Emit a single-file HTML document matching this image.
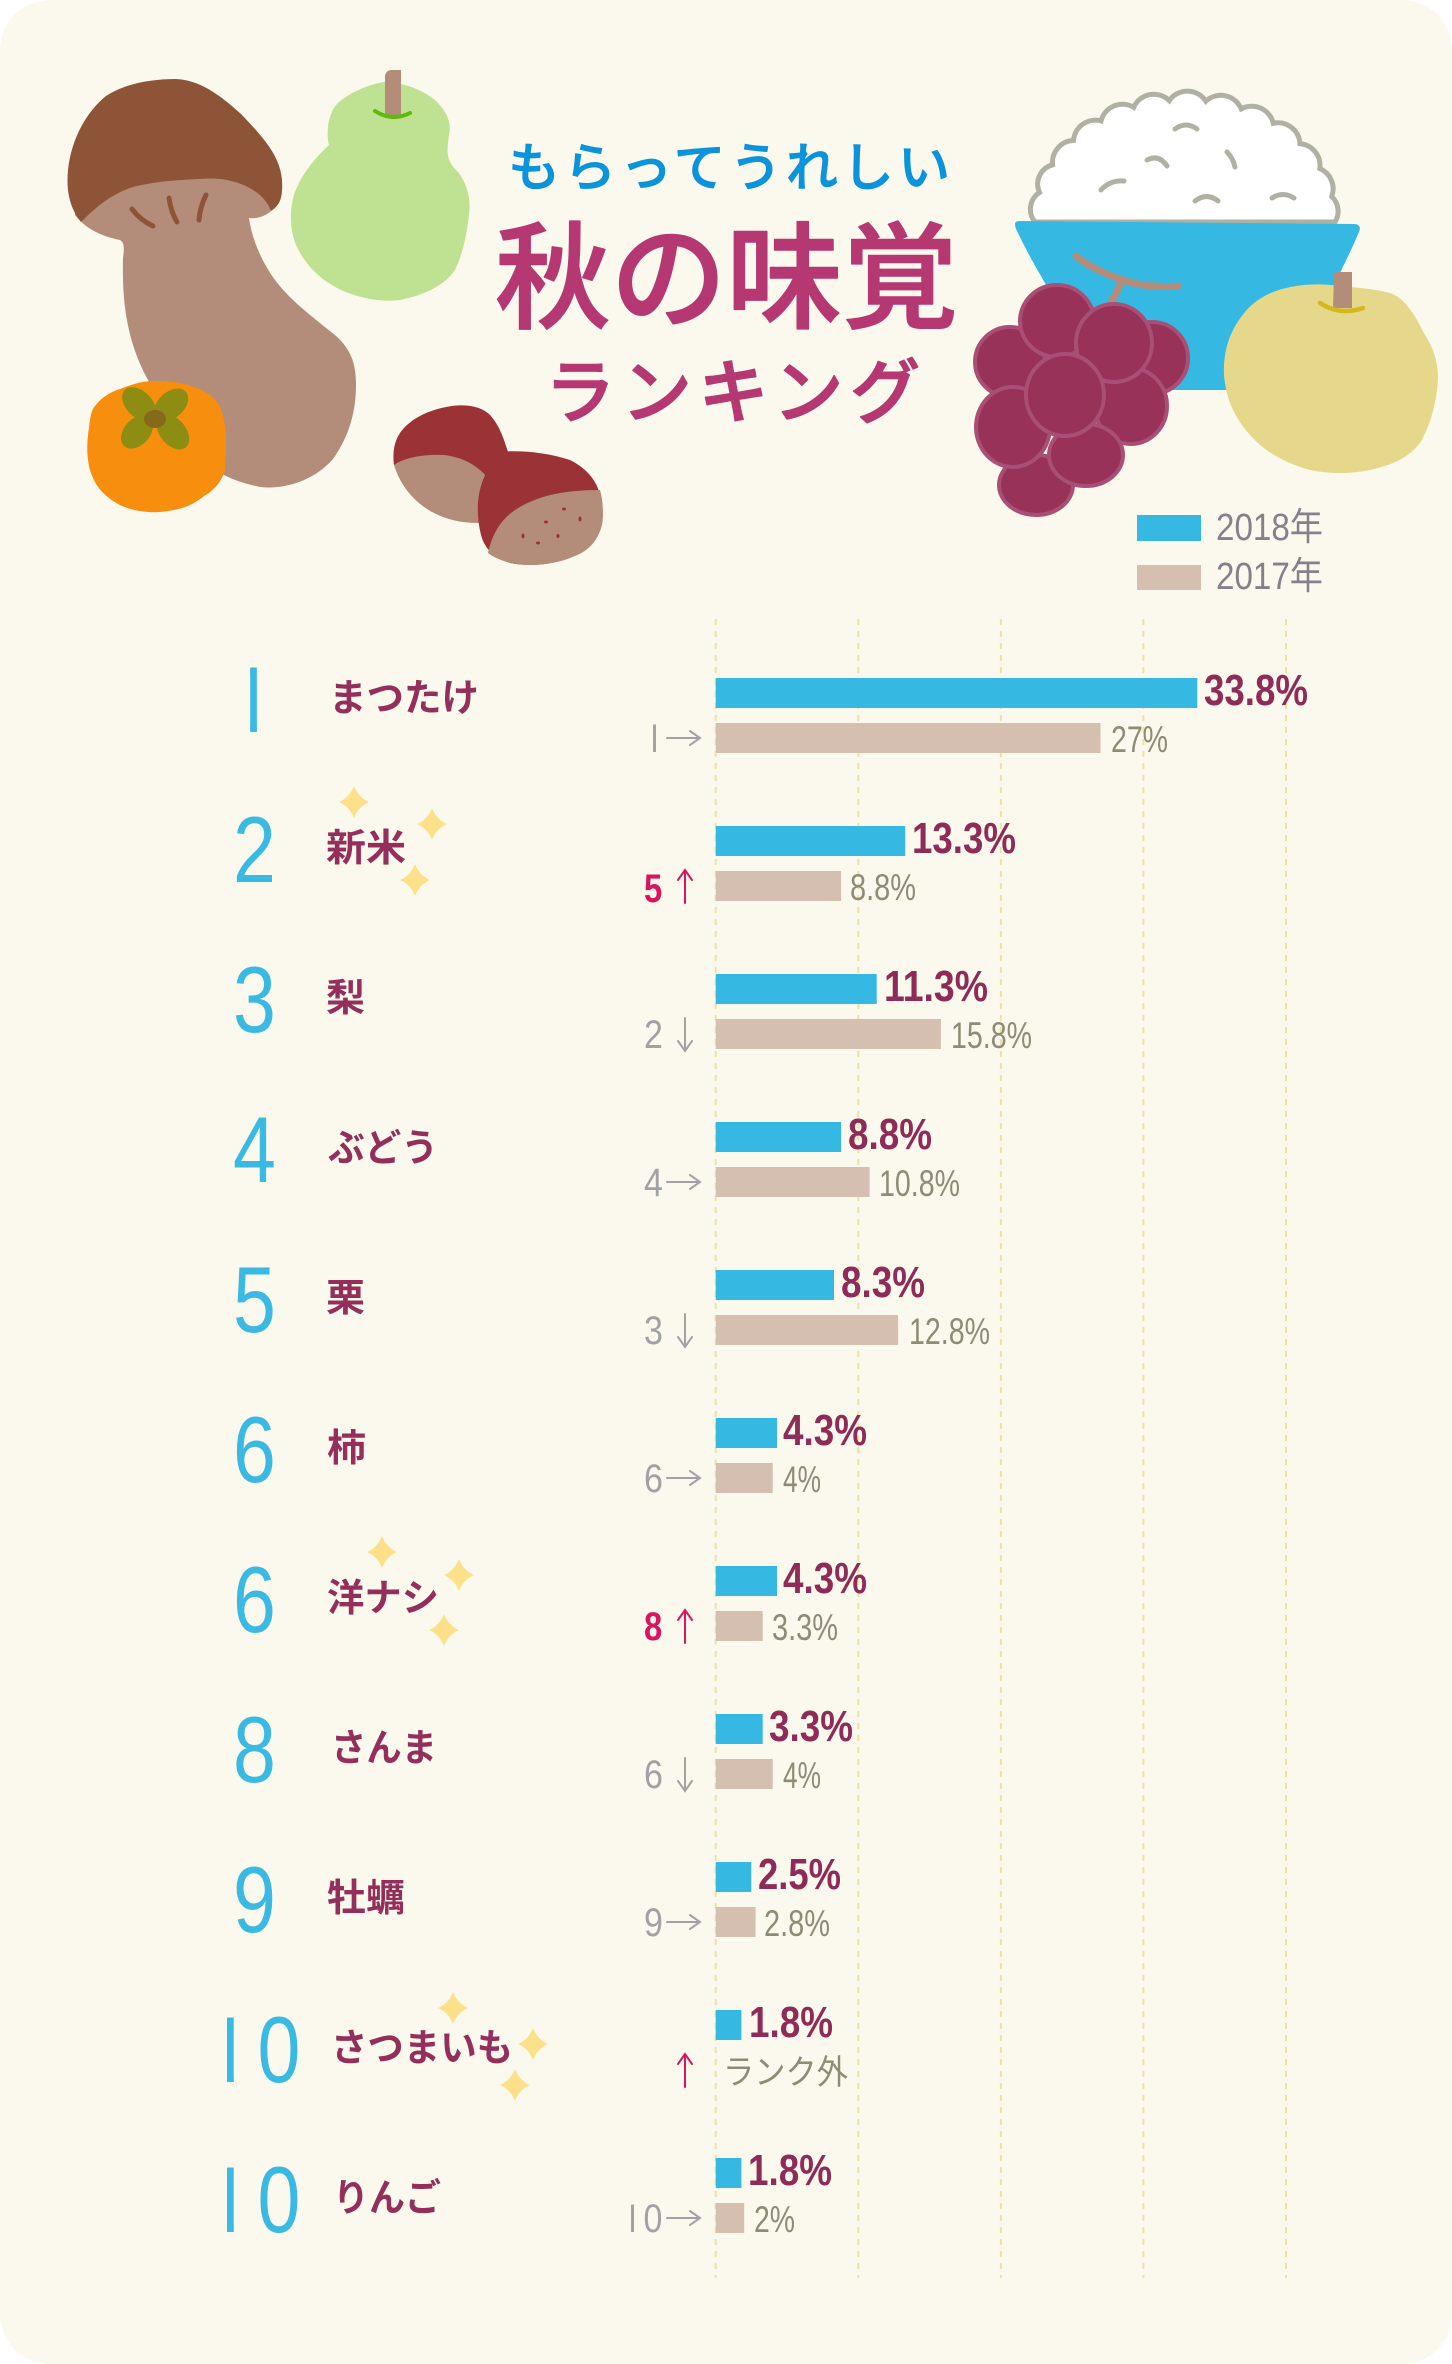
<!DOCTYPE html>
<html><head><meta charset="utf-8"><style>html,body{margin:0;padding:0;background:#fff}svg{display:block}</style></head>
<body>
<svg width="1452" height="2364" viewBox="0 0 1452 2364" xmlns="http://www.w3.org/2000/svg">
<defs>
<clipPath id="c1"><rect x="250.1" y="600" width="6.8" height="160"/></clipPath>
<clipPath id="c10a"><rect x="227" y="1990" width="6.8" height="110"/><rect x="248" y="1990" width="60" height="110"/></clipPath>
<clipPath id="c10b"><rect x="227" y="2140" width="6.8" height="110"/><rect x="248" y="2140" width="60" height="110"/></clipPath>
<clipPath id="cp1"><rect x="653" y="710" width="3" height="50"/></clipPath>
<clipPath id="cp10"><rect x="631" y="2190" width="3" height="50"/><rect x="640" y="2190" width="32" height="50"/></clipPath>
</defs>
<rect x="0" y="0" width="1452" height="2364" rx="50" fill="#FBF9ED"/>

<!-- mushroom -->
<path fill="#B48D7A" d="M75,215 C85,228 100,236 120,240 C125,243 124,250 123,258 C122,300 126,340 148,380 L200,460 C215,472 235,482 260,487 C285,490 315,480 333,459 C350,435 356,410 356,385 C356,365 352,350 335,335 C310,315 290,300 275,280 C262,262 252,240 249,218 C258,219 266,216 272,210 L280,170 L75,170 Z"/>
<path fill="#8E5437" d="M81,222 C70,208 66,192 68,170 C71,140 86,112 106,96 C124,84 150,79 176,79 C200,80 220,95 241,114 C262,136 280,155 282,180 C283,198 280,205 271,211 C267,200 257,190 241,184 C225,178 212,178 199,179 C175,180 150,182 130,188 C110,195 95,208 81,222 Z"/>
<g stroke="#8E5437" stroke-width="5" stroke-linecap="round" fill="none">
<path d="M132,209 Q140,220 153,226"/><path d="M169,198 Q171,212 177,222"/><path d="M206,195 Q200,207 199,220"/>
</g>
<!-- persimmon -->
<path fill="#F78E0E" d="M93,409 C100,398 110,392 120,389 C135,383 145,381 153,381 C170,381 185,383 194,387 C208,392 215,398 219,405 C225,418 226,430 226,445 L225,470 C222,482 212,492 204,496 C192,506 180,510 160,512 C145,513 130,510 120,505 C105,497 95,487 90,470 C86,455 87,440 89,428 C90,418 91,413 93,409 Z"/>
<g fill="#8C8D12">
<ellipse cx="139" cy="404" rx="20" ry="13" transform="rotate(45 139 404)"/>
<ellipse cx="171" cy="405" rx="20" ry="13" transform="rotate(-42 171 405)"/>
<ellipse cx="137" cy="432" rx="19" ry="13" transform="rotate(-48 137 432)"/>
<ellipse cx="173" cy="432" rx="20" ry="13" transform="rotate(50 173 432)"/>
</g>
<ellipse cx="155" cy="419" rx="11" ry="9" fill="#86691A"/>
<!-- green pear -->
<path fill="#BEE291" d="M329,145 C325,130 330,110 338,103 C350,92 370,84 384,82 C400,82 420,88 435,100 C445,110 452,120 449,135 C447,150 445,160 458,172 C468,185 471,200 469,215 C466,240 462,255 455,270 C445,285 425,295 400,300 C385,302 365,300 343,291 C320,280 305,265 296,245 C288,225 290,200 298,185 C305,170 318,155 329,145 Z"/>
<path fill="#B48D7A" d="M385,115 L385,76 Q386,70 392,70 L401,70 L401,115 Z"/>
<path d="M375,111 Q392,122 410,113" stroke="#5DBB0A" stroke-width="4" fill="none" stroke-linecap="round"/>
<!-- chestnuts -->
<path fill="#B48D7A" d="M394,465 C392,448 396,436 405,427 C416,416 432,409 452,406 C468,404 482,407 490,415 C500,426 504,440 508,452 L500,520 L478,523 C462,523 447,520 432,512 C414,502 400,485 394,465 Z"/>
<path fill="#9A3236" d="M394,465 C392,448 396,436 405,427 C416,416 432,409 452,406 C468,404 482,407 490,415 C500,426 504,440 508,452 L488,478 C478,466 463,457 444,455 C425,454 405,457 394,465 Z"/>
<path fill="#9A3236" d="M498,452 C520,450 545,452 570,460 C590,470 600,485 602,505 C604,525 595,545 575,555 C555,565 530,567 510,563 C495,558 485,550 481,535 C476,515 477,495 483,480 C488,468 492,460 498,452 Z"/>
<path fill="#B48D7A" d="M488,553 C492,535 500,520 515,510 C535,497 560,490 600,490 C603,500 604,515 602,525 C598,540 590,550 575,556 C555,565 530,567 510,563 C500,560 493,557 488,553 Z"/>
<g fill="#9A3236">
<ellipse cx="564" cy="509" rx="2" ry="1.5"/><ellipse cx="546" cy="522" rx="2" ry="1.5"/><ellipse cx="580" cy="519" rx="1.5" ry="2.5"/>
<ellipse cx="523" cy="536" rx="1.5" ry="2.5"/><ellipse cx="538" cy="543" rx="2" ry="1.5"/><ellipse cx="558" cy="536" rx="1.5" ry="2"/>
</g>

<!-- titles -->
<text x="508" y="186" font-family="'Noto Sans CJK JP',sans-serif" font-size="52" font-weight="500" fill="#0B93DB" stroke="#0B93DB" stroke-width="0.8" stroke-linejoin="round" textLength="442" lengthAdjust="spacing">もらってうれしい</text>
<text x="495" y="319" font-family="'Noto Sans CJK JP',sans-serif" font-size="116" font-weight="500" fill="#B53873" stroke="#B53873" stroke-width="1.5" stroke-linejoin="round" textLength="463" lengthAdjust="spacingAndGlyphs">秋の味覚</text>
<text x="545" y="417" font-family="'Noto Sans CJK JP',sans-serif" font-size="70" font-weight="500" fill="#B53873" stroke="#B53873" stroke-width="1.5" stroke-linejoin="round" textLength="375" lengthAdjust="spacing">ランキング</text>

<!-- rice -->
<path fill="#FFFFFF" stroke="#B1B1A3" stroke-width="5" d="M1035,222 A20 20 0 0 1 1039.5,192.5 A20 20 0 0 1 1052.6,164.8 A22 22 0 0 1 1073.5,140.4 A22 22 0 0 1 1101.1,120.9 A22 22 0 0 1 1133.7,107.3 A22 22 0 0 1 1169.3,100.6 A22 22 0 0 1 1205.9,101.2 A22 22 0 0 1 1241.2,108.9 A22 22 0 0 1 1273.2,123.3 A22 22 0 0 1 1299.9,143.6 A22 22 0 0 1 1319.8,168.6 A22 22 0 0 1 1331.7,196.6 A20 20 0 0 1 1335,222 Z"/>
<g stroke="#B1B1A3" stroke-width="5" stroke-linecap="round" fill="none">
<path d="M1175,129 Q1186,121 1197,129"/><path d="M1147,160 Q1159,154 1167,166"/><path d="M1227,152 Q1233,158 1235,167"/>
<path d="M1101,190 Q1110,180 1124,181"/><path d="M1195,201 Q1207,192 1218,201"/><path d="M1272,198 Q1283,191 1294,198"/>
</g>
<!-- bowl -->
<path fill="#35B9E2" d="M1019,221 L1355,224 Q1362,225 1359,232 Q1330,300 1282,370 L1268,390 L1115,390 L1102,370 Q1045,290 1016,229 Q1013,221 1019,221 Z"/>
<!-- grape stem -->
<path d="M1076,256 Q1095,272 1133,283 Q1155,288 1178,286 M1121,283 L1111,303" stroke="#B48D7A" stroke-width="7" stroke-linecap="round" fill="none"/>
<!-- grapes -->
<g fill="#983258" stroke="#A94F75" stroke-width="4">
<ellipse cx="1152" cy="358" rx="36" ry="36"/>
<ellipse cx="1010" cy="362" rx="35" ry="35"/>
<ellipse cx="1057" cy="321" rx="37" ry="36"/>
<ellipse cx="1036" cy="485" rx="37" ry="30"/>
<ellipse cx="1013" cy="427" rx="37" ry="40"/>
<ellipse cx="1131" cy="406" rx="36" ry="38"/>
<ellipse cx="1086" cy="455" rx="37" ry="31"/>
<ellipse cx="1114" cy="343" rx="38" ry="39"/>
<ellipse cx="1065" cy="395" rx="39" ry="41"/>
</g>
<!-- asian pear -->
<path fill="#E5D88A" d="M1282,289 C1300,284 1320,283 1340,286 C1360,288 1375,289 1390,293 C1405,298 1415,315 1425,335 C1435,350 1438,365 1438,378 C1437,400 1432,420 1422,440 C1410,458 1392,465 1370,470 C1350,474 1330,474 1310,470 C1285,463 1265,452 1250,435 C1235,418 1226,400 1224,375 C1223,350 1230,330 1245,312 C1255,300 1268,293 1282,289 Z"/>
<path fill="#B48D7A" d="M1333,308 L1334,274 Q1334,272 1337,272 L1352,272 L1352,308 Z"/>
<path d="M1320,303 Q1340,316 1363,308" stroke="#D3B71C" stroke-width="4.5" fill="none" stroke-linecap="round"/>

<!-- legend -->
<rect x="1137" y="515" width="64" height="26" fill="#35B9E2"/>
<rect x="1137" y="565" width="64" height="25" fill="#D4BFB1"/>
<g font-family="'Liberation Sans','Noto Sans CJK JP',sans-serif" font-size="38" fill="#85818A">
<text x="1216" y="540" textLength="107" lengthAdjust="spacingAndGlyphs">2018年</text>
<text x="1216" y="589" textLength="107" lengthAdjust="spacingAndGlyphs">2017年</text>
</g>

<!-- grid -->
<g stroke="#EEE2A2" stroke-width="2" stroke-dasharray="6 6">
<line x1="715.7" y1="619" x2="715.7" y2="2278"/>
<line x1="858.3" y1="619" x2="858.3" y2="2278"/>
<line x1="1000.9" y1="619" x2="1000.9" y2="2278"/>
<line x1="1143.4" y1="619" x2="1143.4" y2="2278"/>
<line x1="1286" y1="619" x2="1286" y2="2278"/>
</g>

<!-- bars -->
<g fill="#35B9E2">
<rect x="715.7" y="678" width="481.6" height="30"/>
<rect x="715.7" y="826" width="189.5" height="30"/>
<rect x="715.7" y="974" width="161" height="30"/>
<rect x="715.7" y="1122" width="125.4" height="30"/>
<rect x="715.7" y="1270" width="118.3" height="30"/>
<rect x="715.7" y="1418" width="61.3" height="30"/>
<rect x="715.7" y="1566" width="61.3" height="30"/>
<rect x="715.7" y="1714" width="47" height="30"/>
<rect x="715.7" y="1862" width="35.6" height="30"/>
<rect x="715.7" y="2010" width="25.7" height="30"/>
<rect x="715.7" y="2158" width="25.7" height="30"/>
</g>
<g fill="#D4BFB1">
<rect x="715.7" y="723" width="384.8" height="30"/>
<rect x="715.7" y="871" width="125.4" height="30"/>
<rect x="715.7" y="1019" width="225.2" height="30"/>
<rect x="715.7" y="1167" width="153.9" height="30"/>
<rect x="715.7" y="1315" width="182.4" height="30"/>
<rect x="715.7" y="1463" width="57" height="30"/>
<rect x="715.7" y="1611" width="47" height="30"/>
<rect x="715.7" y="1759" width="57" height="30"/>
<rect x="715.7" y="1907" width="39.9" height="30"/>
<rect x="715.7" y="2203" width="28.5" height="30"/>
</g>

<!-- blue value labels -->
<g font-family="'Liberation Sans',sans-serif" font-size="44" font-weight="bold" fill="#8E2B56">
<text x="1204" y="705" textLength="104" lengthAdjust="spacingAndGlyphs">33.8%</text>
<text x="912" y="853" textLength="104" lengthAdjust="spacingAndGlyphs">13.3%</text>
<text x="884" y="1001" textLength="104" lengthAdjust="spacingAndGlyphs">11.3%</text>
<text x="848" y="1149" textLength="84" lengthAdjust="spacingAndGlyphs">8.8%</text>
<text x="841" y="1297" textLength="84" lengthAdjust="spacingAndGlyphs">8.3%</text>
<text x="783" y="1445" textLength="84" lengthAdjust="spacingAndGlyphs">4.3%</text>
<text x="783" y="1593" textLength="84" lengthAdjust="spacingAndGlyphs">4.3%</text>
<text x="769" y="1741" textLength="84" lengthAdjust="spacingAndGlyphs">3.3%</text>
<text x="758" y="1889" textLength="83" lengthAdjust="spacingAndGlyphs">2.5%</text>
<text x="749" y="2037" textLength="84" lengthAdjust="spacingAndGlyphs">1.8%</text>
<text x="748" y="2185" textLength="84" lengthAdjust="spacingAndGlyphs">1.8%</text>
</g>
<!-- tan value labels -->
<g font-family="'Liberation Sans',sans-serif" font-size="37" fill="#8F8B77">
<text x="1111" y="752" textLength="57" lengthAdjust="spacingAndGlyphs">27%</text>
<text x="850" y="900" textLength="66" lengthAdjust="spacingAndGlyphs">8.8%</text>
<text x="951" y="1048" textLength="81" lengthAdjust="spacingAndGlyphs">15.8%</text>
<text x="879" y="1196" textLength="81" lengthAdjust="spacingAndGlyphs">10.8%</text>
<text x="909" y="1344" textLength="81" lengthAdjust="spacingAndGlyphs">12.8%</text>
<text x="783" y="1492" textLength="38" lengthAdjust="spacingAndGlyphs">4%</text>
<text x="772" y="1640" textLength="66" lengthAdjust="spacingAndGlyphs">3.3%</text>
<text x="783" y="1788" textLength="38" lengthAdjust="spacingAndGlyphs">4%</text>
<text x="764" y="1936" textLength="66" lengthAdjust="spacingAndGlyphs">2.8%</text>
<text x="754" y="2232" textLength="41" lengthAdjust="spacingAndGlyphs">2%</text>
</g>
<text x="723" y="2084" font-family="'Noto Sans CJK JP',sans-serif" font-size="34" fill="#8F8B77" textLength="125" lengthAdjust="spacingAndGlyphs">ランク外</text>

<!-- previous ranks -->
<g font-family="'Liberation Sans',sans-serif" font-size="40" fill="#A2A1A4">
<g clip-path="url(#cp1)"><text transform="translate(644.45,752) scale(0.85,1)">1</text></g>
<text transform="translate(644,1048) scale(0.85,1)">2</text>
<text transform="translate(644,1196) scale(0.85,1)">4</text>
<text transform="translate(644,1344) scale(0.85,1)">3</text>
<text transform="translate(644,1492) scale(0.85,1)">6</text>
<text transform="translate(644,1788) scale(0.85,1)">6</text>
<text transform="translate(644,1936) scale(0.85,1)">9</text>
<g clip-path="url(#cp10)"><text transform="translate(0,2232) scale(0.85,1)"><tspan x="732.3">1</tspan><tspan x="757">0</tspan></text></g>
</g>
<g font-family="'Liberation Sans',sans-serif" font-size="40" font-weight="bold" fill="#D8155E">
<text transform="translate(644,902) scale(0.82,1)">5</text>
<text transform="translate(644,1640) scale(0.82,1)">8</text>
</g>
<g stroke="#A2A1A4" stroke-width="2" fill="none" stroke-linecap="round">
<path d="M667,738 H700 M690,731 L700,738 L690,745"/>
<path d="M667,1182 H700 M690,1175 L700,1182 L690,1189"/>
<path d="M667,1478 H700 M690,1471 L700,1478 L690,1485"/>
<path d="M667,1922 H700 M690,1915 L700,1922 L690,1929"/>
<path d="M667,2218 H700 M690,2211 L700,2218 L690,2225"/>
<path d="M685,1018 V1051 M678,1041 L685,1051 L692,1041"/>
<path d="M685,1314 V1347 M678,1337 L685,1347 L692,1337"/>
<path d="M685,1758 V1791 M678,1781 L685,1791 L692,1781"/>
</g>
<g stroke="#D8155E" stroke-width="2" fill="none" stroke-linecap="round">
<path d="M685,903 V870 M678,880 L685,870 L692,880"/>
<path d="M685,1643 V1610 M678,1620 L685,1610 L692,1620"/>
<path d="M685,2087 V2054 M678,2064 L685,2054 L692,2064"/>
</g>

<!-- rank numbers -->
<g font-family="'Liberation Sans',sans-serif" font-size="94" fill="#3AB9E3">
<g clip-path="url(#c1)"><text transform="translate(230.7,732) scale(0.82,1)">1</text></g>
<text transform="translate(233,882) scale(0.82,1)">2</text>
<text transform="translate(233,1032) scale(0.82,1)">3</text>
<text transform="translate(233,1182) scale(0.82,1)">4</text>
<text transform="translate(233,1332) scale(0.82,1)">5</text>
<text transform="translate(233,1482) scale(0.82,1)">6</text>
<text transform="translate(233,1632) scale(0.82,1)">6</text>
<text transform="translate(233,1782) scale(0.82,1)">8</text>
<text transform="translate(233,1932) scale(0.82,1)">9</text>
<g clip-path="url(#c10a)"><text transform="translate(0,2082) scale(0.82,1)"><tspan x="253.2">1</tspan><tspan x="314">0</tspan></text></g>
<g clip-path="url(#c10b)"><text transform="translate(0,2232) scale(0.82,1)"><tspan x="253.2">1</tspan><tspan x="314">0</tspan></text></g>
</g>

<!-- names -->
<g font-family="'Noto Sans CJK JP',sans-serif" font-size="38" font-weight="bold" fill="#932F5A">
<text x="329" y="711" textLength="150" lengthAdjust="spacingAndGlyphs">まつたけ</text>
<text x="326" y="861" textLength="80" lengthAdjust="spacingAndGlyphs">新米</text>
<text x="326" y="1011" textLength="39" lengthAdjust="spacingAndGlyphs">梨</text>
<text x="328" y="1161" textLength="110" lengthAdjust="spacingAndGlyphs">ぶどう</text>
<text x="326" y="1311" textLength="39" lengthAdjust="spacingAndGlyphs">栗</text>
<text x="327" y="1461" textLength="39" lengthAdjust="spacingAndGlyphs">柿</text>
<text x="327" y="1611" textLength="112" lengthAdjust="spacingAndGlyphs">洋ナシ</text>
<text x="331" y="1761" textLength="106" lengthAdjust="spacingAndGlyphs">さんま</text>
<text x="327" y="1911" textLength="78" lengthAdjust="spacingAndGlyphs">牡蠣</text>
<text x="331" y="2061" textLength="182" lengthAdjust="spacingAndGlyphs">さつまいも</text>
<text x="333" y="2211" textLength="108" lengthAdjust="spacingAndGlyphs">りんご</text>
</g>

<!-- sparkles -->
<g fill="#FCE18A">
<path transform="translate(354,802)" d="M0,-16 Q4.5,-4.5 15,0 Q4.5,4.5 0,16 Q-4.5,4.5 -15,0 Q-4.5,-4.5 0,-16Z"/>
<path transform="translate(432,824)" d="M0,-16 Q4.5,-4.5 15,0 Q4.5,4.5 0,16 Q-4.5,4.5 -15,0 Q-4.5,-4.5 0,-16Z"/>
<path transform="translate(415,880)" d="M0,-16 Q4.5,-4.5 15,0 Q4.5,4.5 0,16 Q-4.5,4.5 -15,0 Q-4.5,-4.5 0,-16Z"/>
<path transform="translate(382,1552)" d="M0,-16 Q4.5,-4.5 15,0 Q4.5,4.5 0,16 Q-4.5,4.5 -15,0 Q-4.5,-4.5 0,-16Z"/>
<path transform="translate(459,1575)" d="M0,-16 Q4.5,-4.5 15,0 Q4.5,4.5 0,16 Q-4.5,4.5 -15,0 Q-4.5,-4.5 0,-16Z"/>
<path transform="translate(444,1630)" d="M0,-16 Q4.5,-4.5 15,0 Q4.5,4.5 0,16 Q-4.5,4.5 -15,0 Q-4.5,-4.5 0,-16Z"/>
<path transform="translate(453,2008)" d="M0,-16 Q4.5,-4.5 15,0 Q4.5,4.5 0,16 Q-4.5,4.5 -15,0 Q-4.5,-4.5 0,-16Z"/>
<path transform="translate(533,2044)" d="M0,-16 Q4.5,-4.5 15,0 Q4.5,4.5 0,16 Q-4.5,4.5 -15,0 Q-4.5,-4.5 0,-16Z"/>
<path transform="translate(515,2085)" d="M0,-16 Q4.5,-4.5 15,0 Q4.5,4.5 0,16 Q-4.5,4.5 -15,0 Q-4.5,-4.5 0,-16Z"/>
</g>
</svg>
</body></html>
